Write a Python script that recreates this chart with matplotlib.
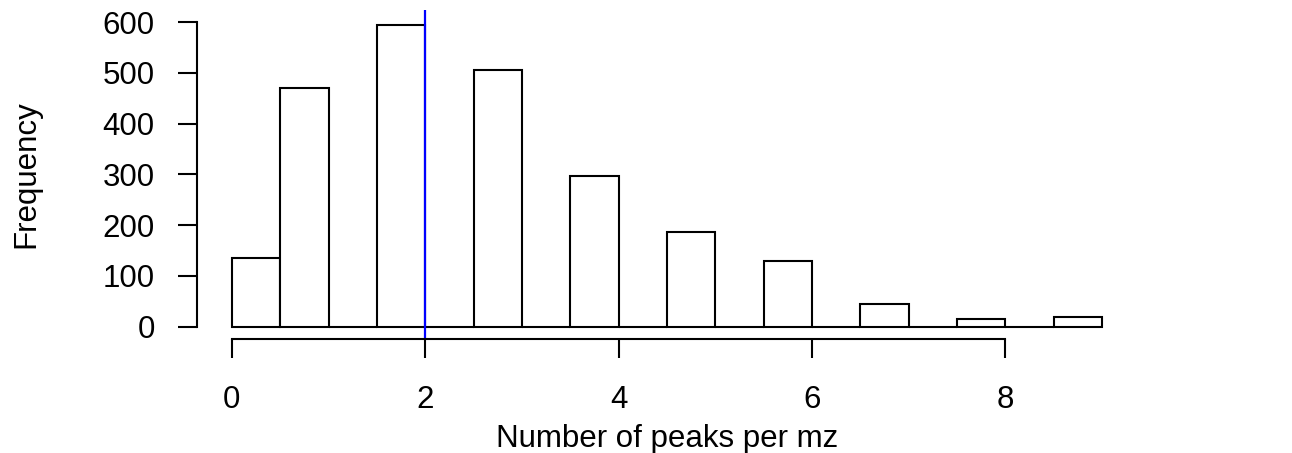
import matplotlib
matplotlib.use("Agg")
import matplotlib.pyplot as plt

bin_edges = [0, 0.5, 1, 1.5, 2, 2.5, 3, 3.5, 4, 4.5, 5, 5.5, 6, 6.5, 7, 7.5, 8, 8.5, 9]
counts = [135, 470, 0, 595, 0, 505, 0, 297, 0, 186, 0, 130, 0, 45, 0, 16, 0, 20]
x_ticks = [0, 2, 4, 6, 8]
y_ticks = [0, 100, 200, 300, 400, 500, 600]
median_line = 2

plt.rcParams['font.family'] = ['Liberation Sans', 'DejaVu Sans']

def drawHist():
    fig = plt.figure(figsize=(12.92, 4.53), dpi=100)
    ax = fig.add_axes([0.1525, 0.252, 0.7275, 0.726])

    widths = [bin_edges[i + 1] - bin_edges[i] for i in range(len(counts))]
    ax.bar(bin_edges[:-1], counts, width=widths, align='edge',
           facecolor='white', edgecolor='black', linewidth=1.5)
    ax.axvline(median_line, color='#0000ff', linewidth=1.6)

    ax.set_xlim(-0.36, 9.36)
    ax.set_ylim(-24, 624)

    for s in ['top', 'right']:
        ax.spines[s].set_visible(False)
    ax.spines['left'].set_bounds(0, 600)
    ax.spines['bottom'].set_bounds(0, 8)
    ax.spines['left'].set_linewidth(1.5)
    ax.spines['bottom'].set_linewidth(1.5)

    ax.set_xticks(x_ticks)
    ax.set_yticks(y_ticks)
    ax.tick_params(length=13.5, width=1.5, labelsize=22.5)
    ax.tick_params(axis='x', pad=20)
    ax.tick_params(axis='y', pad=17)

    ax.set_xlabel('Number of peaks per mz', fontsize=22.5, labelpad=6)
    ax.set_ylabel('Frequency', fontsize=22.5, labelpad=44)

    fig.savefig('out.png', dpi=100)

if __name__ == "__main__":
    drawHist()
